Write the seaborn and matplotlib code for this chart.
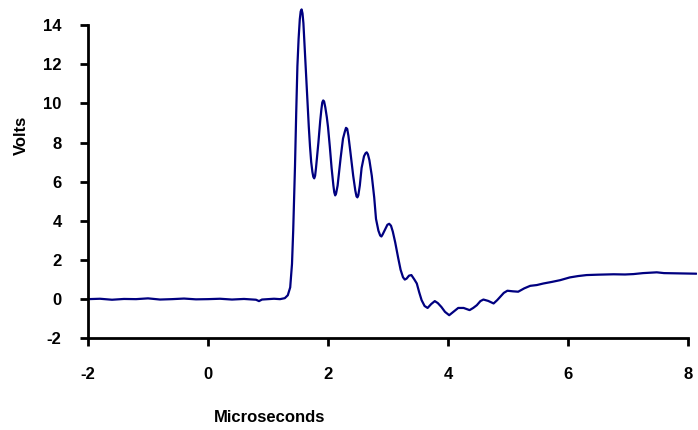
import numpy as np
import matplotlib
matplotlib.use("Agg")
import matplotlib.pyplot as plt
import seaborn as sns

# signal (time in microseconds, amplitude in volts)
time_us = [
    -2.0, -1.8, -1.6, -1.4, -1.2, -1.0, -0.8, -0.6, -0.4, -0.2,
    0.0, 0.2, 0.4, 0.6, 0.8, 0.85, 0.9, 1.0, 1.1, 1.2, 1.28,
    1.33, 1.37, 1.40, 1.42, 1.45, 1.47, 1.49, 1.51, 1.53, 1.545,
    1.56, 1.575, 1.59, 1.61, 1.63, 1.655, 1.68, 1.70, 1.72, 1.74,
    1.755, 1.77, 1.785, 1.80, 1.84, 1.87, 1.89, 1.905, 1.92, 1.935,
    1.955, 1.98, 2.00, 2.03, 2.06, 2.09, 2.105, 2.12, 2.135, 2.16,
    2.21, 2.25, 2.28, 2.30, 2.32, 2.34, 2.37, 2.42, 2.455, 2.475,
    2.49, 2.505, 2.53, 2.56, 2.60, 2.625, 2.645, 2.665, 2.69, 2.73,
    2.77, 2.80, 2.84, 2.87, 2.89, 2.91, 2.95, 2.99, 3.02, 3.05,
    3.08, 3.12, 3.17, 3.21, 3.25, 3.28, 3.31, 3.35, 3.39, 3.44,
    3.48, 3.52, 3.56, 3.61, 3.66, 3.72, 3.78, 3.83, 3.89, 3.95,
    4.02, 4.09, 4.17, 4.26, 4.36, 4.42, 4.48, 4.54, 4.59, 4.67,
    4.76, 4.82, 4.87, 4.93, 4.99, 5.08, 5.17, 5.27, 5.37, 5.48,
    5.59, 5.73, 5.87, 6.03, 6.17, 6.31, 6.50, 6.76, 6.95, 7.09,
    7.25, 7.48, 7.60, 7.76, 7.95, 8.14,
]
volts = [
    0.0, 0.02, -0.03, 0.01, 0.0, 0.04, -0.02, 0.0, 0.03, -0.01,
    0.0, 0.02, -0.02, 0.01, -0.03, -0.1, -0.02, 0.0, 0.02, 0.0, 0.05,
    0.2, 0.6, 1.8, 3.5, 6.8, 9.5, 11.9, 13.3, 14.3, 14.7,
    14.8, 14.6, 14.1, 12.9, 11.6, 10.2, 8.8, 7.8, 7.0, 6.5,
    6.25, 6.17, 6.3, 6.7, 8.0, 9.1, 9.7, 10.05, 10.15, 10.1,
    9.8, 9.3, 8.8, 7.8, 6.7, 5.8, 5.45, 5.3, 5.4, 5.8,
    7.2, 8.2, 8.55, 8.75, 8.7, 8.35, 7.6, 6.3, 5.55, 5.25,
    5.2, 5.3, 5.8, 6.7, 7.3, 7.45, 7.5, 7.4, 7.1, 6.3,
    5.2, 4.1, 3.5, 3.25, 3.2, 3.3, 3.55, 3.8, 3.85, 3.75,
    3.45, 2.9, 2.1, 1.5, 1.12, 1.0, 1.05, 1.2, 1.23, 1.0,
    0.8, 0.35, -0.05, -0.35, -0.45, -0.25, -0.1, -0.2, -0.4, -0.65,
    -0.82, -0.65, -0.45, -0.45, -0.56, -0.45, -0.31, -0.1, -0.02, -0.09,
    -0.22, -0.05, 0.12, 0.32, 0.43, 0.4, 0.38, 0.55, 0.68, 0.72,
    0.8, 0.88, 0.97, 1.11, 1.18, 1.23, 1.25, 1.27, 1.26, 1.28,
    1.33, 1.37, 1.33, 1.32, 1.31, 1.3,
]
x_ticks = [-2, 0, 2, 4, 6, 8]
y_ticks = [-2, 0, 2, 4, 6, 8, 10, 12, 14]

sns.set_style("ticks")
plt.rcParams["font.family"] = ["Liberation Sans", "DejaVu Sans"]
plt.rcParams["font.weight"] = "bold"
plt.rcParams["text.color"] = "black"
plt.rcParams["axes.labelcolor"] = "black"
plt.rcParams["xtick.color"] = "black"
plt.rcParams["ytick.color"] = "black"

fig = plt.figure(figsize=(6.98, 4.30), dpi=100)
ax = fig.add_axes([88 / 698, 1 - 338.3 / 430, 609 / 698, 332.8 / 430])

sns.lineplot(x=time_us, y=volts, ax=ax, color="#000080", linewidth=1.6)

ax.set_xlim(-2, 8.15)
ax.set_ylim(-2, 15)
ax.set_xticks(x_ticks)
ax.set_yticks(y_ticks)
ax.set_xticklabels([str(v) for v in x_ticks], fontsize=12, fontweight="bold")
ax.set_yticklabels([str(v) for v in y_ticks], fontsize=12, fontweight="bold")

sns.despine(ax=ax)
ax.spines["left"].set_bounds(-2, 14)
ax.spines["bottom"].set_bounds(-2, 8)
for side in ["left", "bottom"]:
    ax.spines[side].set_linewidth(2)
    ax.spines[side].set_color("black")
ax.tick_params(axis="both", direction="out", length=6, width=2,
               color="black", labelcolor="black")
ax.tick_params(axis="y", pad=13)
ax.tick_params(axis="x", pad=15)

ax.set_xlabel("Microseconds", fontsize=12, fontweight="bold", color="black")
ax.set_ylabel("Volts", fontsize=12, fontweight="bold", color="black")
ax.xaxis.label.set_va("center")
ax.yaxis.label.set_va("center")
ax.xaxis.set_label_coords((270 - 88) / 609, (338.3 - 417) / 332.8)
ax.yaxis.set_label_coords((21 - 88) / 609, (338.3 - 135) / 332.8)

fig.savefig("out.png", dpi=100)
